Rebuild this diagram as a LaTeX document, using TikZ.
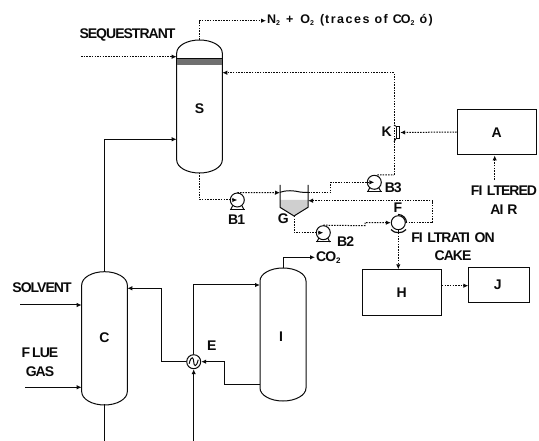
\documentclass[tikz,border=0pt]{standalone}
\usepackage{fontspec}
\usetikzlibrary{arrows.meta,calc}
\setmainfont{Liberation Sans}
\newfontfamily\tightf[LetterSpace=-7]{Liberation Sans}
\newfontfamily\widef[LetterSpace=12]{Liberation Sans}
\definecolor{inkc}{HTML}{0A0A0A}
\definecolor{bandc}{HTML}{707070}
\definecolor{sludge}{HTML}{CFCFCF}
\newcommand{\vesselshape}[6]{% name, x1, x2, top, shoulder-top, shoulder-bottom ; bottom follows
  \pgfmathsetmacro{\vc}{(#2+#3)/2}
  \pgfmathsetmacro{\vk}{(#3-#2)/2*0.552}
  \pgfmathsetmacro{\vh}{(#5-#4)*0.448}
  \pgfmathsetmacro{\vb}{#6+(#5-#4)}
  \draw[vesselline] (#2,#5) .. controls (#2,#4+\vh) and (\vc-\vk,#4) .. (\vc,#4)
    .. controls (\vc+\vk,#4) and (#3,#4+\vh) .. (#3,#5) -- (#3,#6)
    .. controls (#3,\vb-\vh) and (\vc+\vk,\vb) .. (\vc,\vb)
    .. controls (\vc-\vk,\vb) and (#2,\vb-\vh) .. (#2,#6) -- cycle;
}
\newcommand{\pumpbase}[1]{%
  \draw[fineline] ($(#1)+(-7.5,9.3)$) -- ($(#1)+(7.5,9.3)$);
  \draw[fineline] ($(#1)+(-4.5,5.5)$) -- ($(#1)+(-6.5,9.3)$);
  \draw[fineline] ($(#1)+(4.5,5.5)$) -- ($(#1)+(6.5,9.3)$);
}
\tikzset{
  vesselline/.style={draw=inkc,line width=1pt},
  fineline/.style={draw=inkc,line width=1pt},
  solidflow/.style={draw=inkc,line width=1pt,-{Latex[length=5pt,width=4.5pt]}},
  solidplain/.style={draw=inkc,line width=1pt},
  dotflow/.style={draw=inkc,line width=1pt,dash pattern=on 1.5pt off 1.2pt,-{Latex[length=5pt,width=4.5pt]}},
  dotplain/.style={draw=inkc,line width=1pt,dash pattern=on 1.5pt off 1.2pt},
  lbl/.style={inner sep=0pt,text=inkc,font=\tightf\bfseries\fontsize{14}{14}\selectfont},
  boxunit/.style={draw=inkc,line width=1.1pt,inner sep=0pt,anchor=north west},
  roundunit/.style={circle,draw=inkc,line width=1pt,minimum size=14pt,inner sep=0pt,fill=white},
}
\begin{document}
\begin{tikzpicture}[x=1pt,y=-1pt]
\useasboundingbox (0,0) rectangle (539,441);
% vessels
\vesselshape{S}{176.7}{222.3}{40}{53}{160}
\vesselshape{C}{81.7}{127.3}{271.7}{285}{391.7}
\vesselshape{I}{260}{306}{268}{281}{388}
\fill[bandc] (176.7,58.5) rectangle (222.3,65);
\draw[fineline] (176.7,58.5) -- (222.3,58.5);
% ports
\coordinate (Stop) at (199.5,40);
\coordinate (Sbot) at (199.5,172.7);
\coordinate (Sleft) at (176.7,56.7);
\coordinate (Sright) at (222.3,72.7);
\coordinate (Sfeed) at (176.7,139.3);
\coordinate (Ctop) at (104.5,271.7);
\coordinate (Cbot) at (104.5,404);
\coordinate (Csolv) at (81.7,305);
\coordinate (Cflue) at (81.7,387.3);
\coordinate (Cright) at (127.3,288.3);
\coordinate (Itop) at (283,268);
\coordinate (Ileft) at (260,285);
\coordinate (Iout) at (260,384.7);
\coordinate (seqin) at (81,56.7);
\coordinate (solvin) at (20,305);
\coordinate (fluein) at (25,387.3);
\coordinate (cbotend) at (104.5,441);
\coordinate (ebotend) at (193.7,441);
\coordinate (nout) at (266,20.7);
\coordinate (co2end) at (315,257.3);
\coordinate (airin) at (494.7,180);
% boxes
\node[boxunit,minimum width=79pt,minimum height=45pt] (A) at (456.7,109.3) {};
\node[boxunit,minimum width=79pt,minimum height=45.7pt] (H) at (361.7,269.3) {};
\node[boxunit,minimum width=61pt,minimum height=35.6pt] (J) at (468.3,266.7) {};
% settler G
\fill[sludge] (280,200) -- (308,200) -- (308,207.3) -- (294,216) -- (280,207.3) -- cycle;
\draw[fineline] (280,185) -- (280,207.3) -- (294,216) -- (308,207.3) -- (308,185);
\draw[fineline] (280,192.3) .. controls (286,190) and (294,190.5) .. (300,192) .. controls (303,192.6) and (306,192.5) .. (308,192.3);
\coordinate (Gbot) at (294,216);
\coordinate (Gin) at (280,192.7);
\coordinate (Gout) at (308,192.7);
\coordinate (Gret) at (308,200.7);
% rotating machines
\node[roundunit] (B1p) at (237.3,200) {};
\node[roundunit] (B2p) at (323.3,232.7) {};
\node[roundunit] (B3p) at (374.3,182.3) {};
\node[roundunit] (Fp) at (398.3,222.7) {};
\node[roundunit] (Ep) at (193.7,361.7) {};
\pumpbase{B1p}\pumpbase{B2p}\pumpbase{B3p}
\draw[fineline] ($(Ep)+(-4.5,2)$) .. controls ($(Ep)+(-2.5,-7)$) and ($(Ep)+(0,-4)$) .. ($(Ep)+(0,0)$) .. controls ($(Ep)+(0,4)$) and ($(Ep)+(2.5,7)$) .. ($(Ep)+(4.5,-2)$);
\draw[line width=1.2pt,draw=inkc] (398,214.5) .. controls (402.5,214.5) and (406.5,218) .. (406.5,222.7);
\draw[line width=1.2pt,draw=inkc] (391,229.5) .. controls (394,233.8) and (403,233.8) .. (406,229.5);
% ejector K
\node[draw=inkc,line width=1pt,minimum width=3.4pt,minimum height=11.5pt,inner sep=0pt] (Kb) at (398,132.5) {};
\draw[fineline] (394,125) -- (Kb.north west);
\draw[fineline] (Kb.south west) -- (394,141.7);
% solid connectors
\draw[solidflow] (Ctop) |- (Sfeed);
\draw[solidplain] (Cbot) -- (cbotend);
\draw[solidflow] (solvin) -- (Csolv);
\draw[solidflow] (fluein) -- (Cflue);
\draw[solidflow] (Ep.west) -- (161.7,361.7) |- (Cright);
\draw[solidflow] (Ep.north) |- (Ileft);
\draw[solidflow] (ebotend) -- (Ep.south);
\draw[solidflow] (Iout) -- (224.7,384.7) |- (Ep.east);
\draw[solidflow] (Itop) |- (co2end);
% dotted connectors
\draw[dotflow] (Stop) |- (nout);
\draw[dotflow] (seqin) -- (Sleft);
\draw[dotflow] (394,175) -- (394,72.7) -- (Sright);
\draw[dotplain] (B3p.north) ++(3,0) -- (394,175);
\draw[dotflow] (Sbot) |- (B1p.center);
\draw[dotflow] (B1p.north) -- (Gin);
\draw[dotflow] (Gout) -- (330.7,192.7) |- (B3p.center);
\draw[dotflow] (Gbot) |- (B2p.center);
\draw[dotflow] (B2p.north) -- (365,225.7) -- (365,222.7) -- (Fp.west);
\draw[dotflow] (Fp.east) -- (432.7,222.7) |- (308,200.7);
\draw[dotflow] (Fp.south) -- (H.north -| Fp.south);
\draw[dotflow] (H.east |- 0,285.7) -- (J.west |- 0,285.7);
\draw[dotflow] (A.west |- 0,132) -- (Kb.east);
\draw[dotflow] (airin) -- (A.south -| airin);
% labels
\node[lbl] at (199.5,108.3) {S};
\node[lbl] at (104.5,338) {C};
\node[lbl] at (281,336.7) {I};
\node[lbl] at (211.7,345.7) {E};
\node[lbl] at (A.center) {A};
\node[lbl] at (H.center) {H};
\node[lbl] at (497.7,285) {J};
\node[lbl] at (386.7,132) {K};
\node[lbl] at (236.7,219.3) {B1};
\node[lbl] at (345.7,241.7) {B2};
\node[lbl] at (393.3,187.7) {B3};
\node[lbl] at (283.3,218.3) {G};
\node[lbl] at (398,207.3) {F};
\node[lbl] at (127.5,35) {SEQUESTRANT};
\node[lbl] at (42,288) {SOLVENT};
\node[lbl] at (40,352.7) {F\kern2pt LUE};
\node[lbl] at (40,371.7) {GAS};
\node[lbl] at (504,190.7) {FI\kern4.5pt LTERED};
\node[lbl] at (504,210) {AI\kern4pt R};
\node[lbl] at (453,237.7) {FI\kern4.5pt LTRATI\kern4.5pt ON};
\node[lbl] at (453,256) {CAKE};
\node[lbl,anchor=west] at (316,257.3) {CO\raisebox{-2pt}{\fontsize{8}{8}\selectfont 2}};
\node[inner sep=0pt,anchor=west,text=inkc,font=\widef\bfseries\fontsize{12.5}{13}\selectfont] at (267,20.7)
 {{\tightf N\raisebox{-2pt}{\fontsize{7}{7}\selectfont 2}}\kern6pt+\kern7pt{\tightf O\raisebox{-2pt}{\fontsize{7}{7}\selectfont 2}}\kern6pt(\kern1pt traces\kern5pt of\kern5pt{\tightf CO\raisebox{-2pt}{\fontsize{7}{7}\selectfont 2}}\kern5pt ó)};
\end{tikzpicture}
\end{document}
